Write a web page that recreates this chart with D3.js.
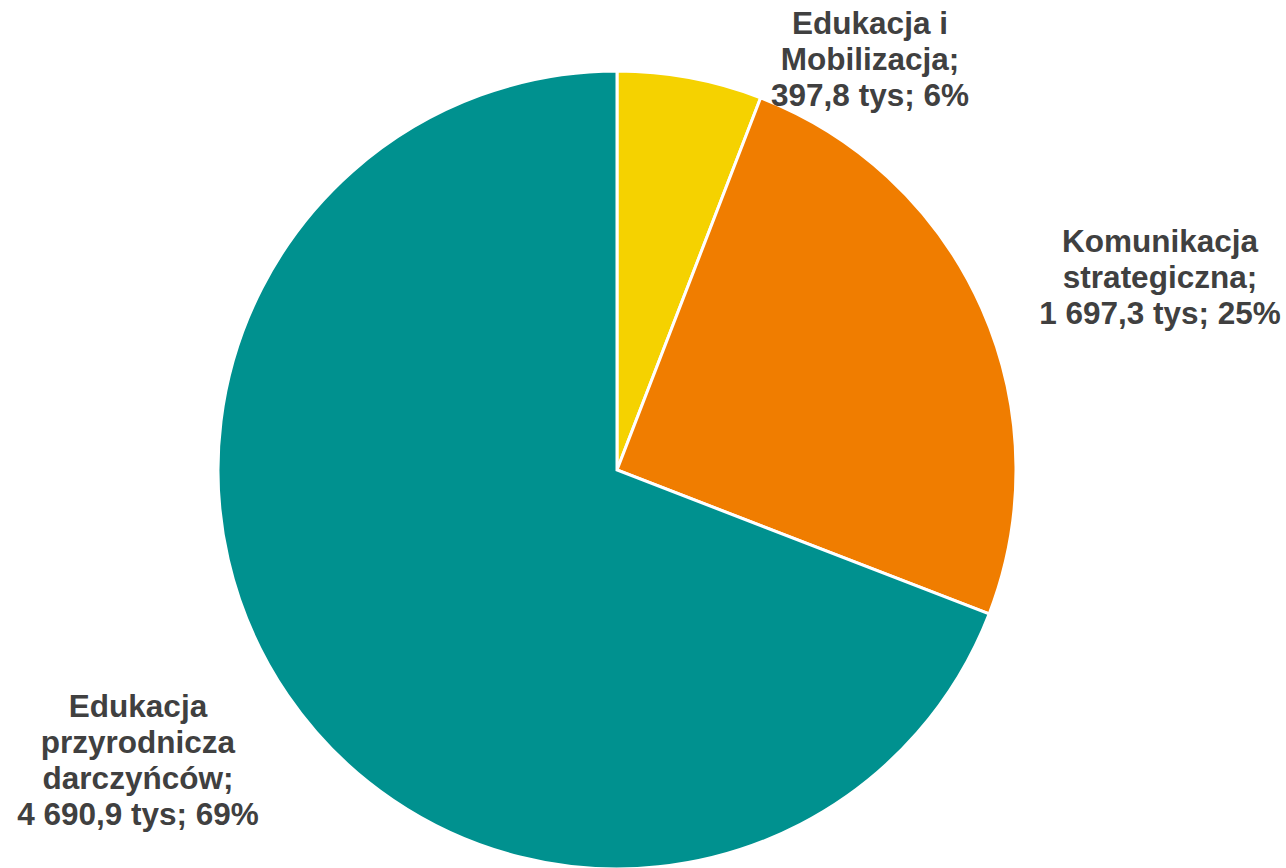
<!DOCTYPE html>
<html lang="pl">
<head>
<meta charset="UTF-8">
<title>Pie</title>
<script src="https://d3js.org/d3.v7.min.js"></script>
<style>
    body { margin: 0; background: #ffffff; }
    text { font-family: "Liberation Sans", Arial, sans-serif; font-weight: bold; fill: #404040; }
</style>
</head>
<body>
<script>
    // dane
    var categories = ["Edukacja i Mobilizacja", "Komunikacja strategiczna", "Edukacja przyrodnicza darczyńców"]
    var values = [397.8, 1697.3, 4690.9]
    var valueLabels = ["397,8 tys", "1 697,3 tys", "4 690,9 tys"]
    var percentLabels = ["6%", "25%", "69%"]
    var labelLines = [
        ["Edukacja i", "Mobilizacja;"],
        ["Komunikacja", "strategiczna;"],
        ["Edukacja", "przyrodnicza", "darczyńców;"]
    ]
    var colors = ["#F5D200", "#F07D00", "#00918F"]

    var width = 1286
    var height = 868
    var cx = 617
    var cy = 470
    var radius = 399

    // pozycje etykiet (x srodka, y pierwszej linii bazowej)
    var labelPos = [[870, 34], [1160, 252], [138, 717]]
    var lineH = 36

    var svg = d3.select("body").append("svg")
        .attr("width", width)
        .attr("height", height)

    var pie = d3.pie().sort(null).value(function (d) { return d })
    var arc = d3.arc().innerRadius(0).outerRadius(radius)

    var g = svg.append("g").attr("transform", "translate(" + cx + "," + cy + ")")
    g.selectAll("path")
        .data(pie(values))
        .enter().append("path")
        .attr("d", arc)
        .attr("fill", function (d, i) { return colors[i] })
        .attr("stroke", "#ffffff")
        .attr("stroke-width", 3)
        .attr("stroke-linejoin", "miter")

    for (var i = 0; i < categories.length; i++) {
        var lines = labelLines[i].concat([valueLabels[i] + "; " + percentLabels[i]])
        var t = svg.append("text")
            .attr("text-anchor", "middle")
            .attr("font-size", 31.5)
        for (var j = 0; j < lines.length; j++) {
            t.append("tspan")
                .attr("x", labelPos[i][0])
                .attr("y", labelPos[i][1] + j * lineH)
                .text(lines[j])
        }
    }
</script>
</body>
</html>
